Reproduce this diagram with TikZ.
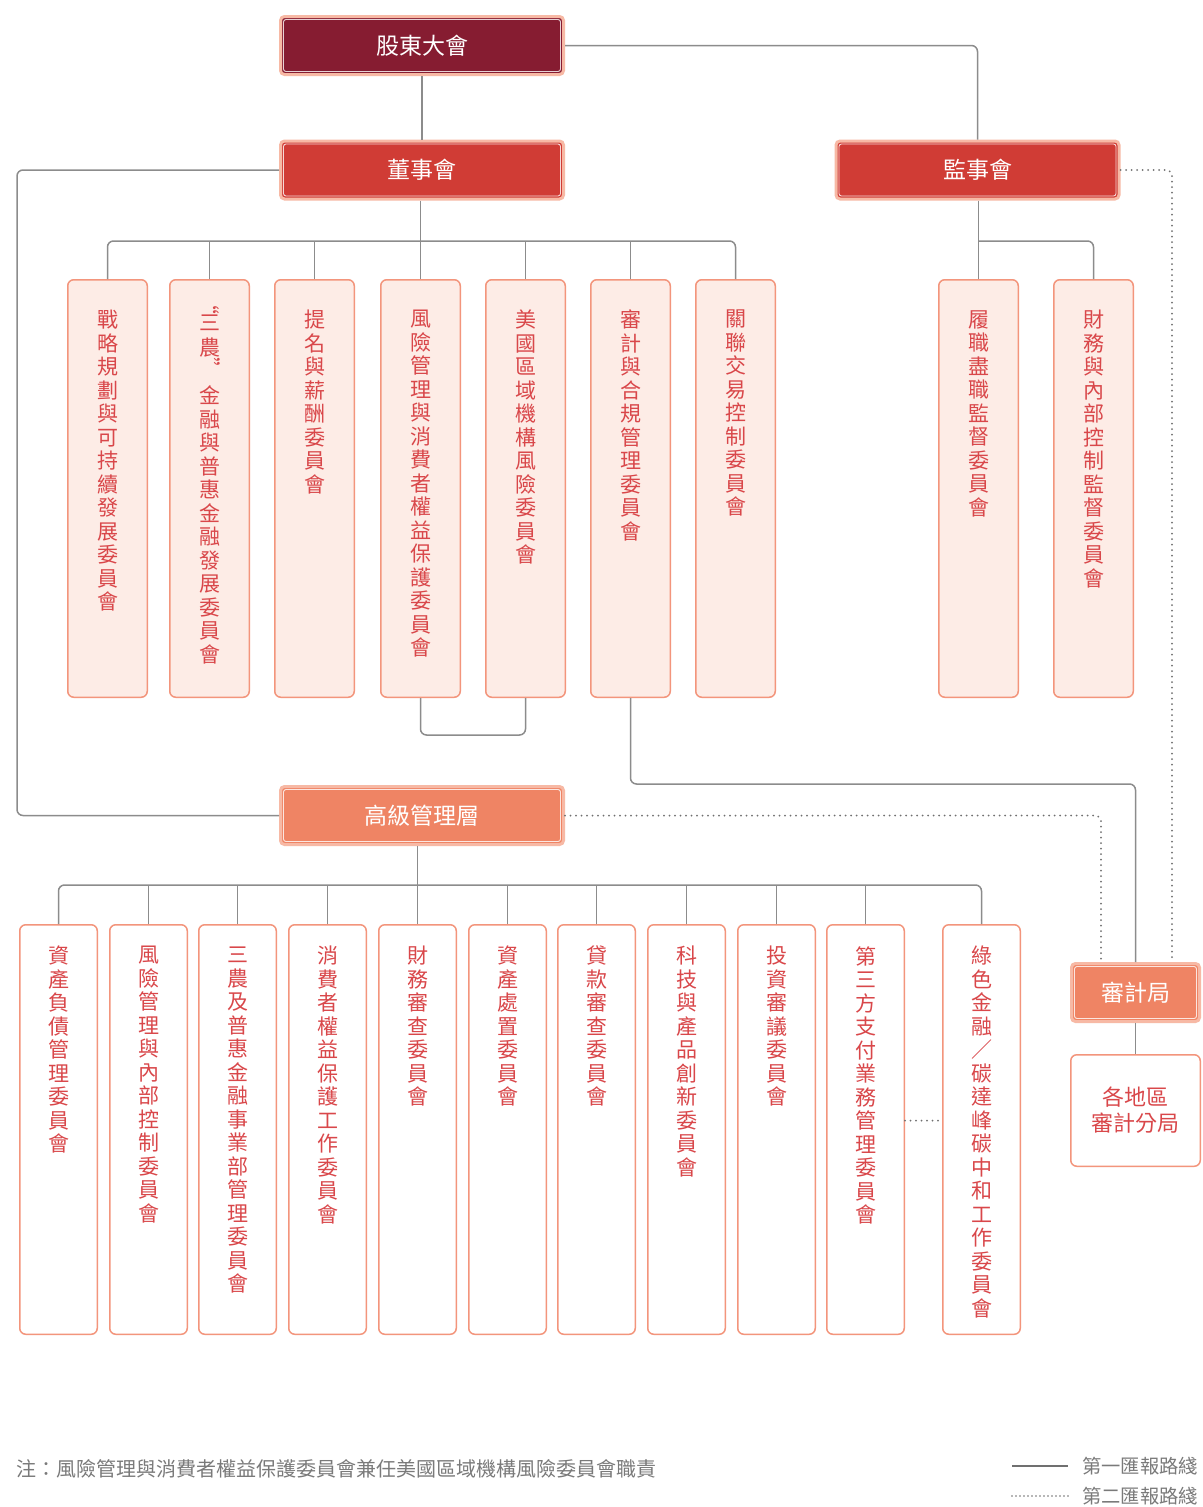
\documentclass[tikz,border=0pt]{standalone}
\usepackage{fontspec}
\setmainfont{Noto Sans CJK TC}
\usetikzlibrary{calc}
\definecolor{cMaroon}{HTML}{861C31}
\definecolor{cRed}{HTML}{D03C35}
\definecolor{cOrange}{HTML}{EF8464}
\definecolor{cGlow}{HTML}{F7B9A5}
\definecolor{cBorder}{HTML}{F3957C}
\definecolor{cPink}{HTML}{FDECE6}
\definecolor{cText}{HTML}{D9474A}
\definecolor{cLine}{HTML}{8C8C8C}
\definecolor{cDot}{HTML}{707070}
\definecolor{cNote}{HTML}{7A7A7A}

\ExplSyntaxOn
\NewDocumentCommand\vtxt{m}{
  \bool_set_true:N \l_tmpa_bool
  \tl_map_inline:nn {#1}{
    \bool_if:NTF \l_tmpa_bool {\bool_set_false:N \l_tmpa_bool \vphantom{國}}{\\}
    ##1
  }
}
\ExplSyntaxOff

\newcommand\boxrim[1]{\draw[white, opacity=0.8, line width=0.9pt, rounded corners=2.5pt] ([xshift=4.5pt,yshift=-4.5pt]#1.north west) rectangle ([xshift=-4.5pt,yshift=4.5pt]#1.south east);}
\newcommand\bcom[3]{\node[cbox] (#1) at (#2,488.5) {}; \node[vlab, anchor=north] (#1t) at ([yshift=-31pt]#1.north) {\vtxt{#3}};}
\newcommand\mcom[3]{\node[mbox] (#1) at (#2,1129.5) {}; \node[vlab, anchor=north] (#1t) at ([yshift=-22pt]#1.north) {\vtxt{#3}};}

\begin{document}
\begin{tikzpicture}[x=1pt,y=-1pt,
  topbox/.style={draw=cGlow, line width=3pt, rounded corners=4pt, inner sep=0pt, minimum height=58pt, text=white, font=\fontsize{23}{26}\selectfont},
  bigbox/.style={topbox, minimum width=283pt},
  cbox/.style={draw=cBorder, line width=1.5pt, rounded corners=6pt, inner sep=0pt, minimum width=79.5pt, minimum height=417.5pt, fill=cPink},
  mbox/.style={cbox, fill=white, minimum width=77.5pt, minimum height=409.5pt},
  vlab/.style={inner sep=0pt, align=center, text=cText, font=\fontsize{21}{23.5}\selectfont},
  qmark/.style={inner sep=0pt, text=cText, font=\fontsize{21}{23.5}\selectfont, rotate=-90},
  conn/.style={draw=cLine, line width=1.5pt, rounded corners=6pt},
  dotconn/.style={conn, draw=cDot, line cap=round, dash pattern=on 0pt off 5.5pt, line width=2pt},
  legtext/.style={inner sep=0pt, text=cNote, font=\fontsize{20}{22}\selectfont},
]
\useasboundingbox[fill=white] (0,0) rectangle (1202,1507);

% top level boxes
\node[bigbox, fill=cMaroon] (gd) at (422,45.5) {股東大會}; \boxrim{gd}
\node[bigbox, fill=cRed] (board) at (422,170) {董事會}; \boxrim{board}
\node[bigbox, fill=cRed] (sup) at (977.5,170) {監事會}; \boxrim{sup}
\node[bigbox, fill=cOrange] (sm) at (422,815.5) {高級管理層}; \boxrim{sm}
\node[topbox, fill=cOrange, minimum width=128pt] (audit) at (1135.5,992.5) {審計局}; \boxrim{audit}
\node[draw=cBorder, line width=1.5pt, rounded corners=6pt, minimum width=129.5pt, minimum height=111.5pt, align=center, text=cText, font=\fontsize{22}{26}\selectfont] (branch) at (1135.5,1110.5) {各地區\\審計分局};

% board committees
\bcom{c1}{107.5}{戰略規劃與可持續發展委員會}
\node[cbox] (c2) at (209.5,488.5) {};
\node[vlab, anchor=north] (c2t) at ([yshift=-35pt]c2.north) {\vphantom{國}三\\[1.5pt]農\\[24.5pt]\vtxt{金融與普惠金融發展委員會}};
\node[qmark] (c2q1) at (201,304) {\smash{“}};
\node[qmark] (c2q2) at (202,368) {\smash{”}};
\bcom{c3}{314.5}{提名與薪酬委員會}
\bcom{c4}{420.5}{風險管理與消費者權益保護委員會}
\bcom{c5}{525.5}{美國區域機構風險委員會}
\bcom{c6}{630.5}{審計與合規管理委員會}
\bcom{c7}{735.5}{關聯交易控制委員會}
% supervisory committees
\bcom{s1}{978.5}{履職盡職監督委員會}
\bcom{s2}{1093.5}{財務與內部控制監督委員會}

% management committees
\mcom{m1}{58.5}{資產負債管理委員會}
\mcom{m2}{148.5}{風險管理與內部控制委員會}
\mcom{m3}{237.5}{三農及普惠金融事業部管理委員會}
\mcom{m4}{327.5}{消費者權益保護工作委員會}
\mcom{m5}{417.5}{財務審查委員會}
\mcom{m6}{507.5}{資產處置委員會}
\mcom{m7}{596.5}{貸款審查委員會}
\mcom{m8}{686.5}{科技與產品創新委員會}
\mcom{m9}{776.5}{投資審議委員會}
\mcom{m10}{865.5}{第三方支付業務管理委員會}
\mcom{m11}{981.5}{綠色金融／碳達峰碳中和工作委員會}

% connectors
\draw[conn] (gd.south) -- (board.north);
\draw[conn] (gd.east) -| (sup.north);
\draw[conn] (board.west) -- ++(-262,0) |- (sm.west);
\draw[conn] (board.south -| c4.north) -- (c4.north);
\draw[conn] (c1.north) -- ++(0,-38) -| (c7.north);
\foreach \n in {c2,c3,c5,c6} \draw[conn] (\n.north) -- ++(0,-38);
\draw[conn] (sup.south -| s1.north) -- (s1.north);
\draw[conn] (s1.north) ++(0,-38) -| (s2.north);
\draw[conn] (c4.south) -- ++(0,37) -| (c5.south);
\draw[conn] (c6.south) -- ++(0,86) -| (audit.north);
\draw[dotconn] (sm.east) -| ([xshift=-34.5pt]audit.north);
\draw[dotconn] (sup.east) -| ([xshift=36.5pt]audit.north);
\draw[conn] (audit.south) -- (branch.north);
\draw[conn] (sm.south -| m5.north) -- (m5.north);
\draw[conn] (m1.north) -- ++(0,-39) -| (m11.north);
\foreach \n in {m2,m3,m4,m6,m7,m8,m9,m10} \draw[conn] (\n.north) -- ++(0,-39);
\draw[dotconn] ([yshift=9pt]m10.east) -- ([yshift=9pt]m11.west);

% footnote
\node[legtext, anchor=west] (note) at (16,1469) {注：風險管理與消費者權益保護委員會兼任美國區域機構風險委員會職責};
% legend
\coordinate (l1a) at (1012,1466); \coordinate (l1b) at (1068,1466);
\coordinate (l2a) at (1012,1496); \coordinate (l2b) at (1068,1496);
\draw[conn, draw=cDot, line width=1.3pt] (l1a) -- (l1b);
\draw[dotconn, line width=1.6pt, dash pattern=on 0pt off 4pt] (l2a) -- (l2b);
\node[legtext, anchor=west, font=\fontsize{19.3}{22}\selectfont] (l1t) at (1082,1466) {第一匯報路綫};
\node[legtext, anchor=west, font=\fontsize{19.3}{22}\selectfont] (l2t) at (1082,1496) {第二匯報路綫};
\end{tikzpicture}
\end{document}
